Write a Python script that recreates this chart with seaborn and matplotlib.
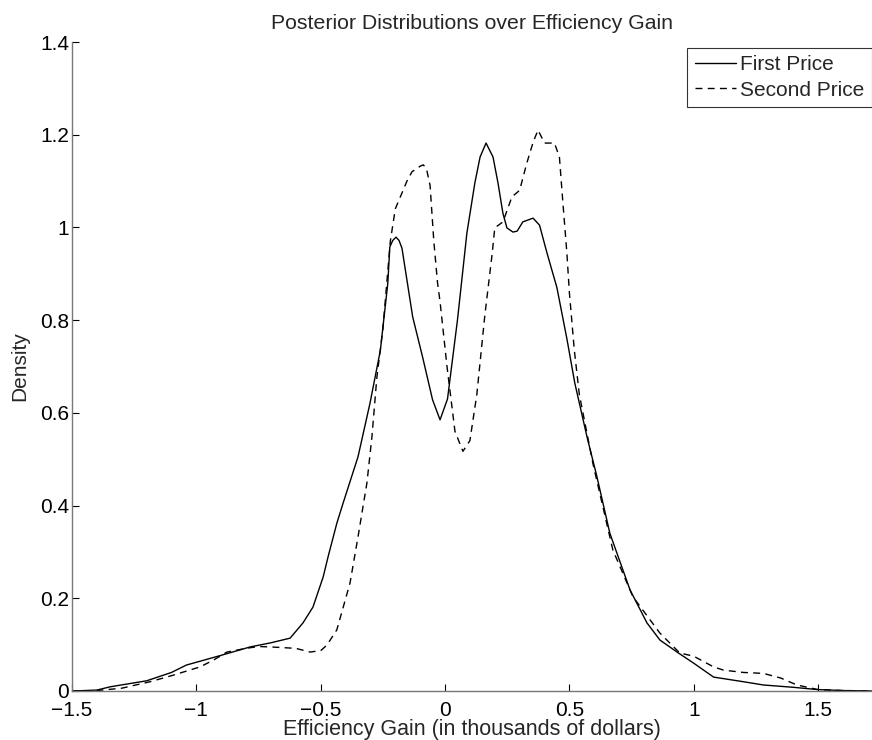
import numpy as np
import pandas as pd
import matplotlib
matplotlib.use("Agg")
import matplotlib.pyplot as plt
import seaborn as sns

# Values
first_x = [-1.5, -1.4, -1.347, -1.2, -1.1, -1.04, -0.9, -0.784, -0.7, -0.623,
           -0.571, -0.531, -0.49, -0.47, -0.435, -0.41, -0.35, -0.302, -0.26,
           -0.23, -0.222, -0.21, -0.197, -0.185, -0.173, -0.16, -0.13, -0.09,
           -0.05, -0.02, 0.01, 0.05, 0.088, 0.12, 0.141, 0.165, 0.193, 0.213,
           0.233, 0.249, 0.273, 0.29, 0.313, 0.354, 0.38, 0.41, 0.45, 0.49,
           0.522, 0.571, 0.611, 0.663, 0.744, 0.812, 0.864, 0.933, 1.0, 1.08,
           1.2, 1.28, 1.4, 1.5, 1.6, 1.72]
first_density = [0.0, 0.002, 0.009, 0.022, 0.04, 0.056, 0.077, 0.095, 0.104, 0.114,
                 0.147, 0.181, 0.246, 0.29, 0.362, 0.405, 0.505, 0.62, 0.735,
                 0.88, 0.958, 0.972, 0.979, 0.972, 0.955, 0.91, 0.807, 0.72,
                 0.628, 0.585, 0.63, 0.8, 0.988, 1.096, 1.152, 1.182, 1.152, 1.096,
                 1.03, 0.999, 0.99, 0.992, 1.012, 1.02, 1.005, 0.945, 0.87, 0.76,
                 0.664, 0.548, 0.462, 0.34, 0.218, 0.147, 0.11, 0.084, 0.06, 0.03,
                 0.02, 0.013, 0.008, 0.003, 0.001, 0.0]

second_x = [-1.5, -1.4, -1.3, -1.186, -1.1, -0.985, -0.93, -0.877, -0.8, -0.75,
            -0.7, -0.6, -0.543, -0.5, -0.475, -0.435, -0.382, -0.35, -0.314,
            -0.294, -0.274, -0.25, -0.22, -0.2, -0.153, -0.133, -0.1, -0.088,
            -0.075, -0.06, -0.045, -0.03, -0.02, 0.008, 0.04, 0.072, 0.1, 0.128,
            0.16, 0.19, 0.2, 0.233, 0.269, 0.3, 0.329, 0.355, 0.374, 0.4, 0.44,
            0.46, 0.473, 0.49, 0.5, 0.52, 0.54, 0.595, 0.675, 0.756, 0.864,
            0.944, 1.0, 1.08, 1.12, 1.2, 1.28, 1.35, 1.415, 1.5, 1.6, 1.72]
second_density = [0.0, 0.001, 0.006, 0.02, 0.033, 0.052, 0.067, 0.084, 0.092, 0.096,
                  0.095, 0.092, 0.084, 0.087, 0.099, 0.132, 0.233, 0.332, 0.449,
                  0.548, 0.677, 0.78, 0.97, 1.04, 1.1, 1.12, 1.132, 1.135,
                  1.128, 1.09, 0.97, 0.88, 0.84, 0.7, 0.56, 0.517, 0.54, 0.64,
                  0.81, 0.945, 0.999, 1.012, 1.066, 1.08, 1.139, 1.185, 1.21, 1.182, 1.182,
                  1.152, 1.06, 0.945, 0.86, 0.735, 0.64, 0.49, 0.304, 0.203, 0.125,
                  0.082, 0.075, 0.052, 0.045, 0.04, 0.038, 0.028, 0.013, 0.003, 0.001, 0.0]

x_ticks = [-1.5, -1, -0.5, 0, 0.5, 1, 1.5]
x_tick_labels = ["\u22121.5", "\u22121", "\u22120.5", "0", "0.5", "1", "1.5"]
y_ticks = [0, 0.2, 0.4, 0.6, 0.8, 1.0, 1.2, 1.4]
y_tick_labels = ["0", "0.2", "0.4", "0.6", "0.8", "1", "1.2", "1.4"]

sns.set_style("ticks")
plt.rcParams["font.family"] = ["Liberation Sans", "DejaVu Sans"]

fig = plt.figure(figsize=(8.72, 7.4), dpi=100)
ax = fig.add_axes([72 / 872, 49 / 740, 800 / 872, 649 / 740])

df_first = pd.DataFrame({"x": first_x, "density": first_density})
df_second = pd.DataFrame({"x": second_x, "density": second_density})

sns.lineplot(data=df_first, x="x", y="density", ax=ax, color="black",
             linewidth=1.0, label="First Price")
sns.lineplot(data=df_second, x="x", y="density", ax=ax, color="black",
             linewidth=1.0, linestyle=(0, (5, 3.8)), label="Second Price")

ax.set_xlim(-1.5, 1.717)
ax.set_ylim(0, 1.4)
ax.set_xticks(x_ticks)
ax.set_xticklabels(x_tick_labels)
ax.set_yticks(y_ticks)
ax.set_yticklabels(y_tick_labels)
ax.tick_params(direction="in", length=5, width=0.8, labelsize=15,
               colors="black")
ax.tick_params(axis="x", pad=7.5)
ax.tick_params(axis="y", pad=2)

sns.despine(ax=ax)
for side in ["left", "bottom"]:
    ax.spines[side].set_color("#777777")
    ax.spines[side].set_linewidth(1.0)

ax.set_title("Posterior Distributions over Efficiency Gain", fontsize=15.3, pad=9.5)
ax.set_xlabel("Efficiency Gain (in thousands of dollars)", fontsize=15.5, labelpad=-1)
ax.set_ylabel("Density", fontsize=15, labelpad=8)

leg = ax.legend(loc="upper right", bbox_to_anchor=(1.0, 1 - 6 / 649), fontsize=15,
                frameon=True, fancybox=False, handlelength=2.0,
                handletextpad=0.2, borderpad=0.35, labelspacing=0.3,
                borderaxespad=0.0)
leg.get_frame().set_edgecolor("black")
leg.get_frame().set_linewidth(0.8)

fig.savefig("out.png", dpi=100)
